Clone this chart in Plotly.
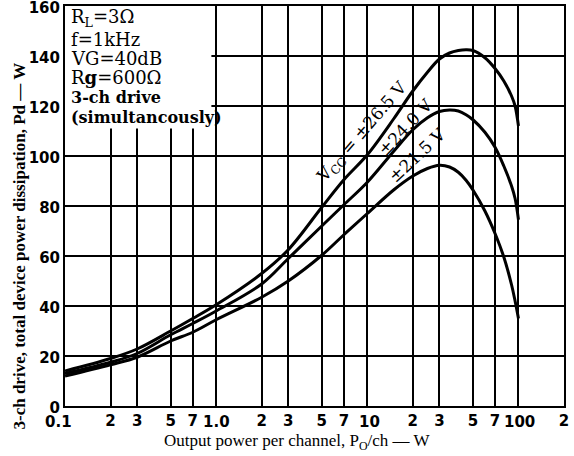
import math
import plotly.graph_objects as go

# Output power per channel (W)
po = [0.1, 0.2, 0.3, 0.5, 0.7, 1.0, 2.0, 3.0, 5.0, 7.0, 10.0, 15.0, 20.0, 25.0, 30.0, 35.0,
      40.0, 45.0, 50.0, 60.0, 70.0, 80.0, 90.0, 95.0, 100.0]

# Total device power dissipation Pd (W)
pd_265 = [14.0, 19.0, 22.8, 30.0, 35.0, 40.5, 53.0, 62.5, 79.5, 90.5, 100.5, 115.0, 126.0,
          133.5, 138.8, 141.2, 142.2, 142.5, 142.2, 139.3, 135.0, 130.0, 124.0, 120.0, 112.0]
pd_240 = [13.0, 17.5, 21.0, 28.5, 33.0, 38.0, 48.8, 59.0, 72.0, 80.5, 89.5, 102.0, 110.5,
          115.3, 117.8, 118.4, 118.0, 116.5, 114.5, 109.5, 103.5, 96.0, 88.0, 83.0, 74.5]
pd_215 = [12.0, 16.5, 19.5, 26.0, 29.5, 34.5, 43.5, 50.0, 60.3, 68.5, 77.0, 86.5, 92.0,
          95.0, 96.3, 95.6, 93.5, 90.3, 86.4, 78.0, 69.0, 59.6, 48.5, 42.0, 35.0]

x_tickvals = [0.1, 0.2, 0.3, 0.5, 0.7, 1, 2, 3, 5, 7, 10, 20, 30, 50, 70, 100, 200]
x_ticktext = ["", "2", "3", "5", "7", "", "2", "3", "5", "7", "",
              "2", "3", "5", "7", "", "2"]
# decade tick labels sit a little lower in the original: (value, text, x shift px)
x_decade_labels = [(0.1, "0.1", -7), (1.0, "1.0", 0), (10.0, "10", 2), (100.0, "100", 1)]
y_tickvals = [0, 20, 40, 60, 80, 100, 120, 140, 160]

tick_font = dict(family="DejaVu Sans", size=15, color="black", weight="bold")

fig = go.Figure()
for ys in (pd_265, pd_240, pd_215):
    fig.add_trace(go.Scatter(x=po, y=ys, mode="lines",
                             line=dict(color="black", width=3, shape="spline", smoothing=1.0),
                             showlegend=False, hoverinfo="skip"))

# white area behind the condition block
fig.add_shape(type="rect", xref="x", yref="y", x0=0.1, x1=0.93, y0=111, y1=160,
              fillcolor="white", line=dict(width=0), layer="above")

serif = "DejaVu Serif"
cond_lines = [("R<sub>L</sub>=3Ω", 155.3, 18),
              ("f=1kHz", 146.6, 18),
              ("VG=40dB", 139.2, 18),
              ("R<b>g</b>=600Ω", 131.6, 18),
              ("<b>3-ch drive</b>", 123.6, 16),
              ("<b>(simultancously)</b>", 115.6, 16)]
for txt, yv, sz in cond_lines:
    fig.add_annotation(x=-0.968, y=yv, xref="x", yref="y", text=txt, showarrow=False,
                       xanchor="left", yanchor="middle", borderpad=0,
                       font=dict(family=serif, size=sz, color="black"))

labels = [("V<sub>CC</sub> = ±26.5 V", 9.3, 109.5, -49),
          ("±24.0 V", 17.9, 111.6, -47),
          ("±21.5 V", 21.4, 100.4, -43)]
for txt, xv, yv, ang in labels:
    fig.add_annotation(x=math.log10(xv), y=yv, xref="x", yref="y", text=txt,
                       showarrow=False, textangle=ang,
                       font=dict(family=serif, size=17, color="black"))

for xv, txt, sh in x_decade_labels:
    fig.add_annotation(x=math.log10(xv), y=0, xref="x", yref="paper", text=txt,
                       showarrow=False, xanchor="center", yanchor="top", xshift=sh, yshift=-6,
                       borderpad=0, font=tick_font)

# axis titles
fig.add_annotation(x=0.466, y=-0.09, xref="paper", yref="paper",
                   text="Output power per channel, P<sub>O</sub>/ch — W", showarrow=False,
                   xanchor="center", yanchor="middle", borderpad=0,
                   font=dict(family="Liberation Serif", size=17, color="black"))
fig.add_annotation(x=-45 / 499.0 - 0.002, y=-0.065, xref="paper", yref="paper",
                   text="<b>3-ch drive, total device power dissipation, Pd — W</b>",
                   showarrow=False, textangle=-90, xanchor="center", yanchor="bottom",
                   font=dict(family="Liberation Serif", size=17, color="black"))

fig.update_xaxes(type="log", range=[-1, 2.3013], tickvals=x_tickvals, ticktext=x_ticktext,
                 showgrid=True, gridcolor="black", gridwidth=1.5,
                 showline=True, linecolor="black", linewidth=2, mirror=True,
                 ticks="", ticklen=0, zeroline=False, automargin=False,
                 ticklabeloverflow="allow", tickfont=tick_font)
fig.update_yaxes(range=[0, 160], tickvals=y_tickvals,
                 showgrid=True, gridcolor="black", gridwidth=1.5,
                 showline=True, linecolor="black", linewidth=2, mirror=True,
                 ticks="", ticklen=0, zeroline=False, automargin=False,
                 ticklabeloverflow="allow", ticklabelshift=2, tickfont=tick_font)

fig.update_layout(width=574, height=456, margin=dict(l=65, r=10, t=6, b=50),
                  paper_bgcolor="white", plot_bgcolor="white")

fig.write_html("out.html", config={"displayModeBar": False},
               post_script="document.body.style.margin='0';document.body.style.overflow='hidden';")
